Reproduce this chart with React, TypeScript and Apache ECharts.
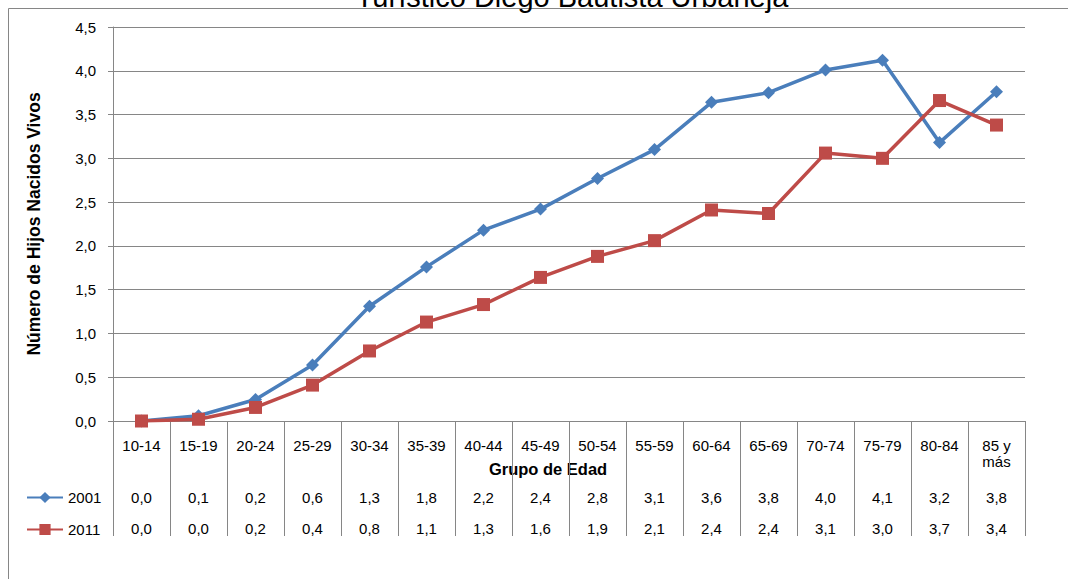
import React, { useEffect, useRef } from "react";
import * as echarts from "echarts";

const categories = [
  "10-14", "15-19", "20-24", "25-29", "30-34", "35-39", "40-44", "45-49",
  "50-54", "55-59", "60-64", "65-69", "70-74", "75-79", "80-84", "85 y\nmás",
];
const series2001 = [0.0, 0.06, 0.245, 0.64, 1.31, 1.76, 2.18, 2.42, 2.77, 3.1, 3.64, 3.75, 4.01, 4.12, 3.18, 3.76];
const series2011 = [0.0, 0.02, 0.155, 0.41, 0.8, 1.13, 1.33, 1.64, 1.88, 2.06, 2.41, 2.37, 3.06, 3.0, 3.66, 3.38];
const table2001 = [0.0, 0.1, 0.2, 0.6, 1.3, 1.8, 2.2, 2.4, 2.8, 3.1, 3.6, 3.8, 4.0, 4.1, 3.2, 3.8];
const table2011 = [0.0, 0.0, 0.2, 0.4, 0.8, 1.1, 1.3, 1.6, 1.9, 2.1, 2.4, 2.4, 3.1, 3.0, 3.7, 3.4];
const seriesNames = ["2001", "2011"];
const titleText = "Turístico Diego Bautista Urbaneja";
const yAxisTitle = "Número de Hijos Nacidos Vivos";
const xAxisTitle = "Grupo de Edad";

const FONT = "'Liberation Sans', Arial, sans-serif";
const GRAY = "#868686";
const fmt = (v: number) => v.toFixed(1).replace(".", ",");

export default function App() {
  const ref = useRef<HTMLDivElement>(null);
  useEffect(() => {
    if (!ref.current) return;
    const chart = echarts.init(ref.current, null, { renderer: "svg" });
    const labelBase = { fontFamily: FONT, fontSize: 15, color: "#000" };
    chart.setOption({
      animation: false,
      textStyle: { fontFamily: FONT },
      grid: { left: 113, right: 43, top: 27, bottom: 158, containLabel: false },
      legend: {
        orient: "vertical",
        left: 26,
        top: 490,
        padding: 0,
        itemWidth: 36,
        itemHeight: 14,
        itemGap: 17,
        textStyle: { ...labelBase },
        data: seriesNames,
      },
      xAxis: [
        {
          type: "category",
          data: categories,
          boundaryGap: true,
          axisLine: { show: true, lineStyle: { color: GRAY, width: 1 } },
          axisTick: { show: true, length: 115, interval: 0, lineStyle: { color: GRAY, width: 1 } },
          axisLabel: { ...labelBase, interval: 0, margin: 16, lineHeight: 16 },
          splitLine: { show: false },
        },
        {
          type: "category",
          data: categories,
          position: "bottom",
          axisLine: { show: false },
          axisTick: { show: false },
          axisLabel: { ...labelBase, interval: 0, margin: 69, formatter: (_v: string, i: number) => fmt(table2001[i]) },
        },
        {
          type: "category",
          data: categories,
          position: "bottom",
          axisLine: { show: false },
          axisTick: { show: false },
          axisLabel: { ...labelBase, interval: 0, margin: 100, formatter: (_v: string, i: number) => fmt(table2011[i]) },
        },
      ],
      yAxis: {
        type: "value",
        min: 0,
        max: 4.5,
        interval: 0.5,
        name: yAxisTitle,
        nameLocation: "middle",
        nameGap: 70,
        nameRotate: 90,
        nameTextStyle: { fontFamily: FONT, fontSize: 17.5, fontWeight: "bold", color: "#000" },
        axisLine: { show: true, lineStyle: { color: GRAY, width: 1 } },
        axisTick: { show: true, length: 5, lineStyle: { color: GRAY, width: 1 } },
        axisLabel: { ...labelBase, margin: 17, formatter: (v: number) => fmt(v) },
        splitLine: { show: true, lineStyle: { color: GRAY, width: 1 } },
      },
      series: [
        {
          name: seriesNames[0],
          type: "line",
          data: series2001,
          symbol: "diamond",
          symbolSize: 13,
          lineStyle: { width: 3.5, color: "#4A7EBB" },
          itemStyle: { color: "#4A7EBB" },
          z: 3,
        },
        {
          name: seriesNames[1],
          type: "line",
          data: series2011,
          symbol: "rect",
          symbolSize: 13,
          lineStyle: { width: 3.5, color: "#BE4B48" },
          itemStyle: { color: "#BE4B48" },
          z: 4,
        },
      ],
      graphic: [
        {
          type: "rect",
          silent: true,
          z: -10,
          shape: { x: 8.5, y: 8.5, width: 1200, height: 700 },
          style: { fill: "none", stroke: GRAY, lineWidth: 1 },
        },
        {
          type: "text",
          silent: true,
          x: 572,
          y: -3,
          style: {
            text: titleText,
            fontFamily: FONT,
            fontSize: 29,
            fill: "#000",
            align: "center",
            verticalAlign: "middle",
          },
        },
        {
          type: "text",
          silent: true,
          x: 548,
          y: 469,
          style: {
            text: xAxisTitle,
            fontFamily: FONT,
            fontSize: 16.5,
            fontWeight: "bold",
            fill: "#000",
            align: "center",
            verticalAlign: "middle",
          },
        },
      ],
    });
    return () => chart.dispose();
  }, []);
  return (
    <div
      ref={ref}
      style={{ position: "fixed", left: 0, top: 0, width: 1068, height: 579, background: "#fff" }}
    />
  );
}
